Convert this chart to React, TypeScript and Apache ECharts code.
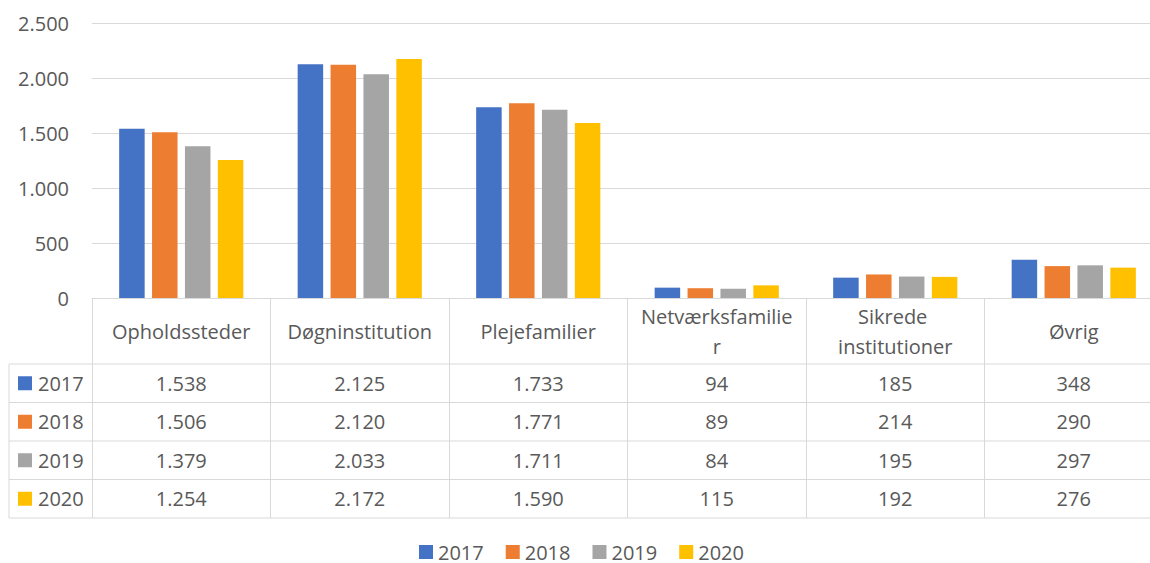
import React, { useEffect, useRef } from "react";
import * as echarts from "echarts";

const categories = [
  "Opholdssteder",
  "Døgninstitution",
  "Plejefamilier",
  "Netværksfamilier",
  "Sikrede institutioner",
  "Øvrig",
];
const seriesNames = ["2017", "2018", "2019", "2020"];
const v2017 = [1538, 2125, 1733, 94, 185, 348];
const v2018 = [1506, 2120, 1771, 89, 214, 290];
const v2019 = [1379, 2033, 1711, 84, 195, 297];
const v2020 = [1254, 2172, 1590, 115, 192, 276];
const seriesValues = [v2017, v2018, v2019, v2020];
const colors = ["#4472C4", "#ED7D31", "#A5A5A5", "#FFC000"];
const yTicks = [0, 500, 1000, 1500, 2000, 2500];

const FONT = "Open Sans";
const TEXT = "#595959";
const LINE = "#D9D9D9";
const INNER_W = 1180;

function fmt(n: number): string {
  return String(n).replace(/\B(?=(\d{3})+(?!\d))/g, ".");
}

export default function App() {
  const ref = useRef<HTMLDivElement>(null);
  useEffect(() => {
    if (!ref.current) return;
    const chart = echarts.init(ref.current, undefined, { renderer: "svg" });
    const option: any = {
      animation: false,
      textStyle: { fontFamily: FONT },
      grid: { left: 92, top: 23, width: 1071, height: 275, containLabel: false },
      legend: {
        data: seriesNames,
        left: 414,
        top: 537,
        padding: 5,
        icon: "rect",
        itemWidth: 14,
        itemHeight: 14,
        itemGap: 22,
        textStyle: { fontSize: 20, lineHeight: 20, color: TEXT, fontFamily: FONT },
      },
      xAxis: {
        type: "category",
        data: categories,
        axisLine: { show: true, lineStyle: { color: LINE, width: 1 } },
        axisTick: { show: true, length: 220, lineStyle: { color: LINE, width: 1 } },
        axisLabel: {
          interval: 0,
          margin: 33,
          fontSize: 20,
          color: TEXT,
          fontFamily: FONT,
          verticalAlign: "middle",
          lineHeight: 30,
          width: 157,
          overflow: "break",
        },
      },
      yAxis: {
        type: "value",
        min: yTicks[0],
        max: yTicks[yTicks.length - 1],
        interval: 500,
        axisLine: { show: false },
        axisTick: { show: false },
        splitLine: { lineStyle: { color: LINE, width: 1 } },
        axisLabel: {
          margin: 23,
          fontSize: 20,
          color: TEXT,
          fontFamily: FONT,
          formatter: (v: number) => fmt(v),
        },
      },
      series: seriesNames.map((name, i) => ({
        name,
        type: "bar",
        data: seriesValues[i],
        barWidth: 25.5,
        barGap: "29%",
        itemStyle: { color: colors[i] },
      })),
    };
    chart.setOption(option);

    // Data table below the axis
    const rowTops = [364, 402.5, 441, 479.5, 518];
    const elements: any[] = [];
    rowTops.forEach((y) => {
      elements.push({
        type: "line",
        shape: { x1: 9, y1: y, x2: INNER_W, y2: y },
        style: { stroke: LINE, lineWidth: 1 },
        silent: true,
      });
    });
    elements.push({
      type: "line",
      shape: { x1: 9, y1: rowTops[0], x2: 9, y2: rowTops[rowTops.length - 1] },
      style: { stroke: LINE, lineWidth: 1 },
      silent: true,
    });
    seriesNames.forEach((name, i) => {
      const yc = (rowTops[i] + rowTops[i + 1]) / 2;
      elements.push({
        type: "rect",
        shape: { x: 18, y: yc - 7, width: 14, height: 14 },
        style: { fill: colors[i] },
        silent: true,
      });
      elements.push({
        type: "text",
        x: 38,
        y: yc,
        style: {
          text: name,
          fontSize: 20,
          fontFamily: FONT,
          fill: TEXT,
          align: "left",
          verticalAlign: "middle",
          textAlign: "left",
          textVerticalAlign: "middle",
        },
        silent: true,
      });
      categories.forEach((cat, j) => {
        const px = chart.convertToPixel({ xAxisIndex: 0 }, cat) as number;
        elements.push({
          type: "text",
          x: px,
          y: yc,
          style: {
            text: fmt(seriesValues[i][j]),
            fontSize: 20,
            fontFamily: FONT,
            fill: TEXT,
            align: "center",
            verticalAlign: "middle",
            textAlign: "center",
            textVerticalAlign: "middle",
          },
          silent: true,
        });
      });
    });
    chart.setOption({ graphic: { elements } });

    return () => chart.dispose();
  }, []);
  return (
    <div
      style={{ position: "absolute", left: 0, top: 0, width: 1150, height: 563, overflow: "hidden", background: "#fff" }}
    >
      <div ref={ref} style={{ width: INNER_W, height: 563 }} />
    </div>
  );
}
